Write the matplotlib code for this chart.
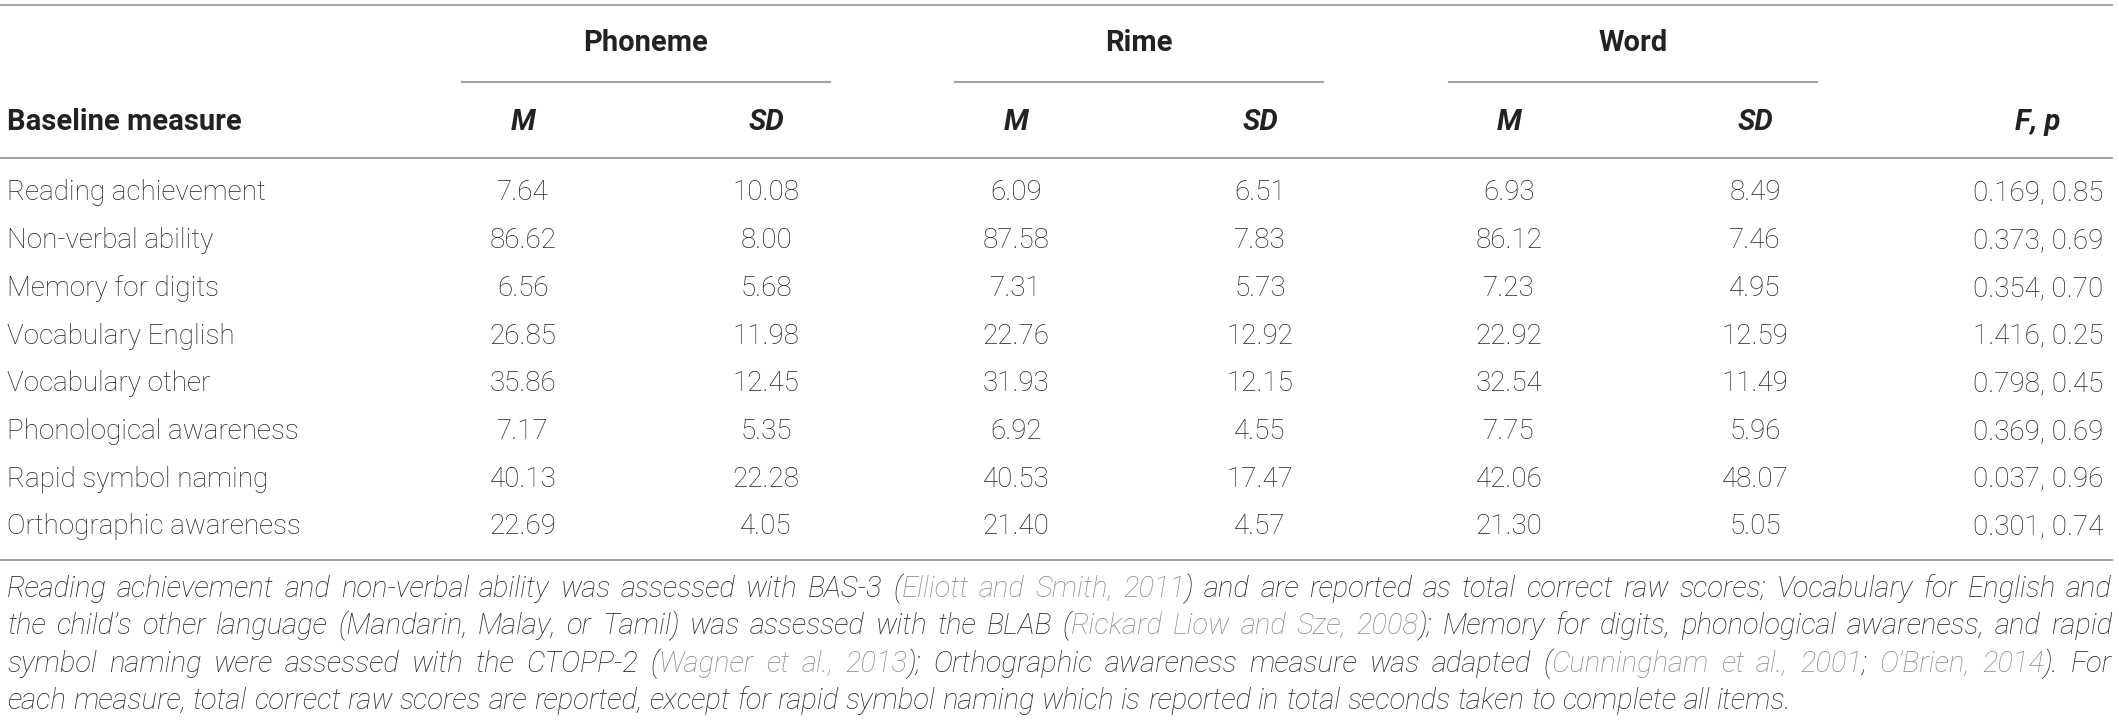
import matplotlib
matplotlib.use("Agg")
import matplotlib.pyplot as plt

# table data
measures = ["Reading achievement", "Non-verbal ability", "Memory for digits",
            "Vocabulary English", "Vocabulary other", "Phonological awareness",
            "Rapid symbol naming", "Orthographic awareness"]
phoneme_m = [7.64, 86.62, 6.56, 26.85, 35.86, 7.17, 40.13, 22.69]
phoneme_sd = [10.08, 8.00, 5.68, 11.98, 12.45, 5.35, 22.28, 4.05]
rime_m = [6.09, 87.58, 7.31, 22.76, 31.93, 6.92, 40.53, 21.40]
rime_sd = [6.51, 7.83, 5.73, 12.92, 12.15, 4.55, 17.47, 4.57]
word_m = [6.93, 86.12, 7.23, 22.92, 32.54, 7.75, 42.06, 21.30]
word_sd = [8.49, 7.46, 4.95, 12.59, 11.49, 5.96, 48.07, 5.05]
f_vals = [0.169, 0.373, 0.354, 1.416, 0.798, 0.369, 0.037, 0.301]
p_vals = [0.85, 0.69, 0.70, 0.25, 0.45, 0.69, 0.96, 0.74]
groups = ["Phoneme", "Rime", "Word"]

K = "#222222"
G = "#8a8a8a"
notes = [
    [("Reading achievement and non-verbal ability was assessed with BAS-3 (", K),
     ("Elliott and Smith, 2011", G),
     (") and are reported as total correct raw scores; Vocabulary for English and", K)],
    [("the child\u2019s other language (Mandarin, Malay, or Tamil) was assessed with the BLAB (", K),
     ("Rickard Liow and Sze, 2008", G),
     ("); Memory for digits, phonological awareness, and rapid", K)],
    [("symbol naming were assessed with the CTOPP-2 (", K),
     ("Wagner et al., 2013", G),
     ("); Orthographic awareness measure was adapted (", K),
     ("Cunningham et al., 2001", G), ("; ", K),
     ("O\u2019Brien, 2014", G), ("). For", K)],
    [("each measure, total correct raw scores are reported, except for rapid "
      "symbol naming which is reported in total seconds taken to complete all items.", K)],
]

W, H = 2119, 721
fig = plt.figure(figsize=(W / 100, H / 100), dpi=100)
ax = fig.add_axes([0, 0, 1, 1])
ax.set_xlim(0, W)
ax.set_ylim(H, 0)
ax.axis("off")

FONT = "Roboto"
FS = 20
FS_NOTE = 21
line_col = "#a3a3a3"
lw = 1.5

x_left, x_right = 0, 2112
ax.plot([x_left, x_right], [5, 5], color=line_col, lw=lw)
ax.plot([x_left, x_right], [158, 158], color=line_col, lw=lw)
ax.plot([x_left, x_right], [560, 560], color=line_col, lw=lw)

group_x = [646, 1139, 1633]
col_m = [523, 1016, 1509]
col_sd = [766, 1260, 1755]
fp_x = 2038

for g, gx in zip(groups, group_x):
    ax.text(gx, 43, g, ha="center", va="center", fontsize=FS + 1, fontweight="bold",
            family=FONT, color=K)
    ax.plot([gx - 184, gx + 184], [82, 82], color=line_col, lw=lw)

ax.text(7, 122, "Baseline measure", ha="left", va="center", fontsize=FS + 1,
        fontweight="bold", family=FONT, color=K)
for mx, sx in zip(col_m, col_sd):
    ax.text(mx, 122, "M", ha="center", va="center", fontsize=FS + 1, fontweight="bold",
            style="italic", family=FONT, color=K)
    ax.text(sx, 122, "SD", ha="center", va="center", fontsize=FS + 1, fontweight="bold",
            style="italic", family=FONT, color=K)
ax.text(fp_x, 122, "F, p", ha="center", va="center", fontsize=FS + 1, fontweight="bold",
        style="italic", family=FONT, color=K)

cols = [phoneme_m, phoneme_sd, rime_m, rime_sd, word_m, word_sd]
xs = [col_m[0], col_sd[0], col_m[1], col_sd[1], col_m[2], col_sd[2]]
row_y0, row_dy = 193, 47.7
for i, name in enumerate(measures):
    y = row_y0 + i * row_dy
    ax.text(7, y, name, ha="left", va="center", fontsize=FS, fontweight="light",
            family=FONT, color=K)
    for vals, cx in zip(cols, xs):
        ax.text(cx, y, f"{vals[i]:.2f}", ha="center", va="center", fontsize=FS,
                fontweight="light", family=FONT, color=K)
    ax.text(fp_x, y, f"{f_vals[i]:.3f}, {p_vals[i]:.2f}", ha="center", va="center",
            fontsize=FS, fontweight="light", family=FONT, color=K)

# footnote, justified like the journal layout
renderer = fig.canvas.get_renderer()


def text_width(s):
    t = ax.text(0, 0, s, fontsize=FS_NOTE, fontweight="light", style="italic",
                family=FONT)
    w = t.get_window_extent(renderer).width
    t.remove()
    return w


space_w = text_width("a a") - text_width("aa")
note_y0, note_dy = 589, 37.3
for li, segs in enumerate(notes):
    words = [[]]
    for s, c in segs:
        parts = s.split(" ")
        for pi, p in enumerate(parts):
            if pi > 0:
                words.append([])
            if p:
                words[-1].append((p, c))
    words = [w for w in words if w]
    widths = [[text_width(p) for p, c in w] for w in words]
    total = sum(sum(ws) for ws in widths)
    last = li == len(notes) - 1
    gap = space_w if last else (x_right - 7 - total) / (len(words) - 1)
    x = 7
    y = note_y0 + li * note_dy
    for w, ws in zip(words, widths):
        for (p, c), pw in zip(w, ws):
            ax.text(x, y, p, ha="left", va="center", fontsize=FS_NOTE,
                    fontweight="light", style="italic", family=FONT, color=c)
            x += pw
        x += gap

fig.savefig("out.png", dpi=100)
